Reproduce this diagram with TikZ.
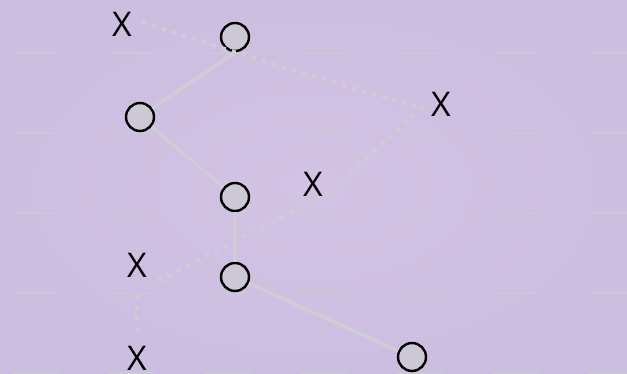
\documentclass[tikz,border=0pt]{standalone}
\usepackage{fontspec}
\setmainfont{Open Sans}

\definecolor{bgCenter}{RGB}{210,195,229}
\definecolor{bgBorder}{RGB}{204,190,224}
\definecolor{guideGray}{RGB}{204,199,212}
\definecolor{edgeGray}{RGB}{207,204,213}
\definecolor{nodeFill}{RGB}{204,200,212}

\begin{document}
\begin{tikzpicture}[x=1pt,y=-1pt,
  vertex/.style={circle,draw=black,line width=2.4pt,fill=nodeFill,
    minimum size=28pt,inner sep=0pt},
  nilmark/.style={inner sep=6pt,font=\fontsize{34}{40}\selectfont},
  treeedge/.style={draw=edgeGray,line width=3.6pt},
  threadedge/.style={draw=edgeGray,line width=3.8pt,
    dash pattern=on 4pt off 6.5pt},
  guide/.style={draw=guideGray,line width=1.8pt}]

%--------------------
% 背景
%--------------------
\useasboundingbox (0,0) rectangle (627,374);
\shade[inner color=bgCenter,outer color=bgBorder] (0,0) rectangle (627,374);

% 目盛り
\begin{scope}
  \clip (0,0) rectangle (627,374);
  \foreach \row in {52.7,132.7,212.7,292.7,372.7}
    \foreach \col in {13,109,...,589}
      \draw[guide] (\col,\row) -- ++(45,0);
\end{scope}

%--------------------
% 節点
%--------------------
\node[vertex] (A) at (235,37) {};
\node[vertex] (B) at (140,117) {};
\node[vertex] (C) at (235,197) {};
\node[vertex] (D) at (235,277) {};
\node[vertex] (E) at (412,357) {};

% 空の印
\node[nilmark] (X1) at (122,24) {X};
\node[nilmark] (X2) at (441,104) {X};
\node[nilmark] (X3) at (313,184) {X};
\node[nilmark] (X4) at (137,265) {X};
\node[nilmark] (X5) at (137,358) {X};

%--------------------
% 枝
%--------------------
\draw[treeedge] (B) -- (A.south);
\draw[treeedge] (B) -- (C);
\draw[treeedge] (C) -- (D);
\draw[treeedge] (D) -- (E);

% 点線の糸
\draw[threadedge,shorten <=4pt]
  (X1.10) -- (A.south) -- (X2.200);
\draw[threadedge,shorten <=6pt]
  (X4.south east) -- (X3.-30) -- (X2.west);
\draw[threadedge,shorten <=12pt,shorten >=9pt]
  (X4.south) -- (X5.north);

\end{tikzpicture}
\end{document}
